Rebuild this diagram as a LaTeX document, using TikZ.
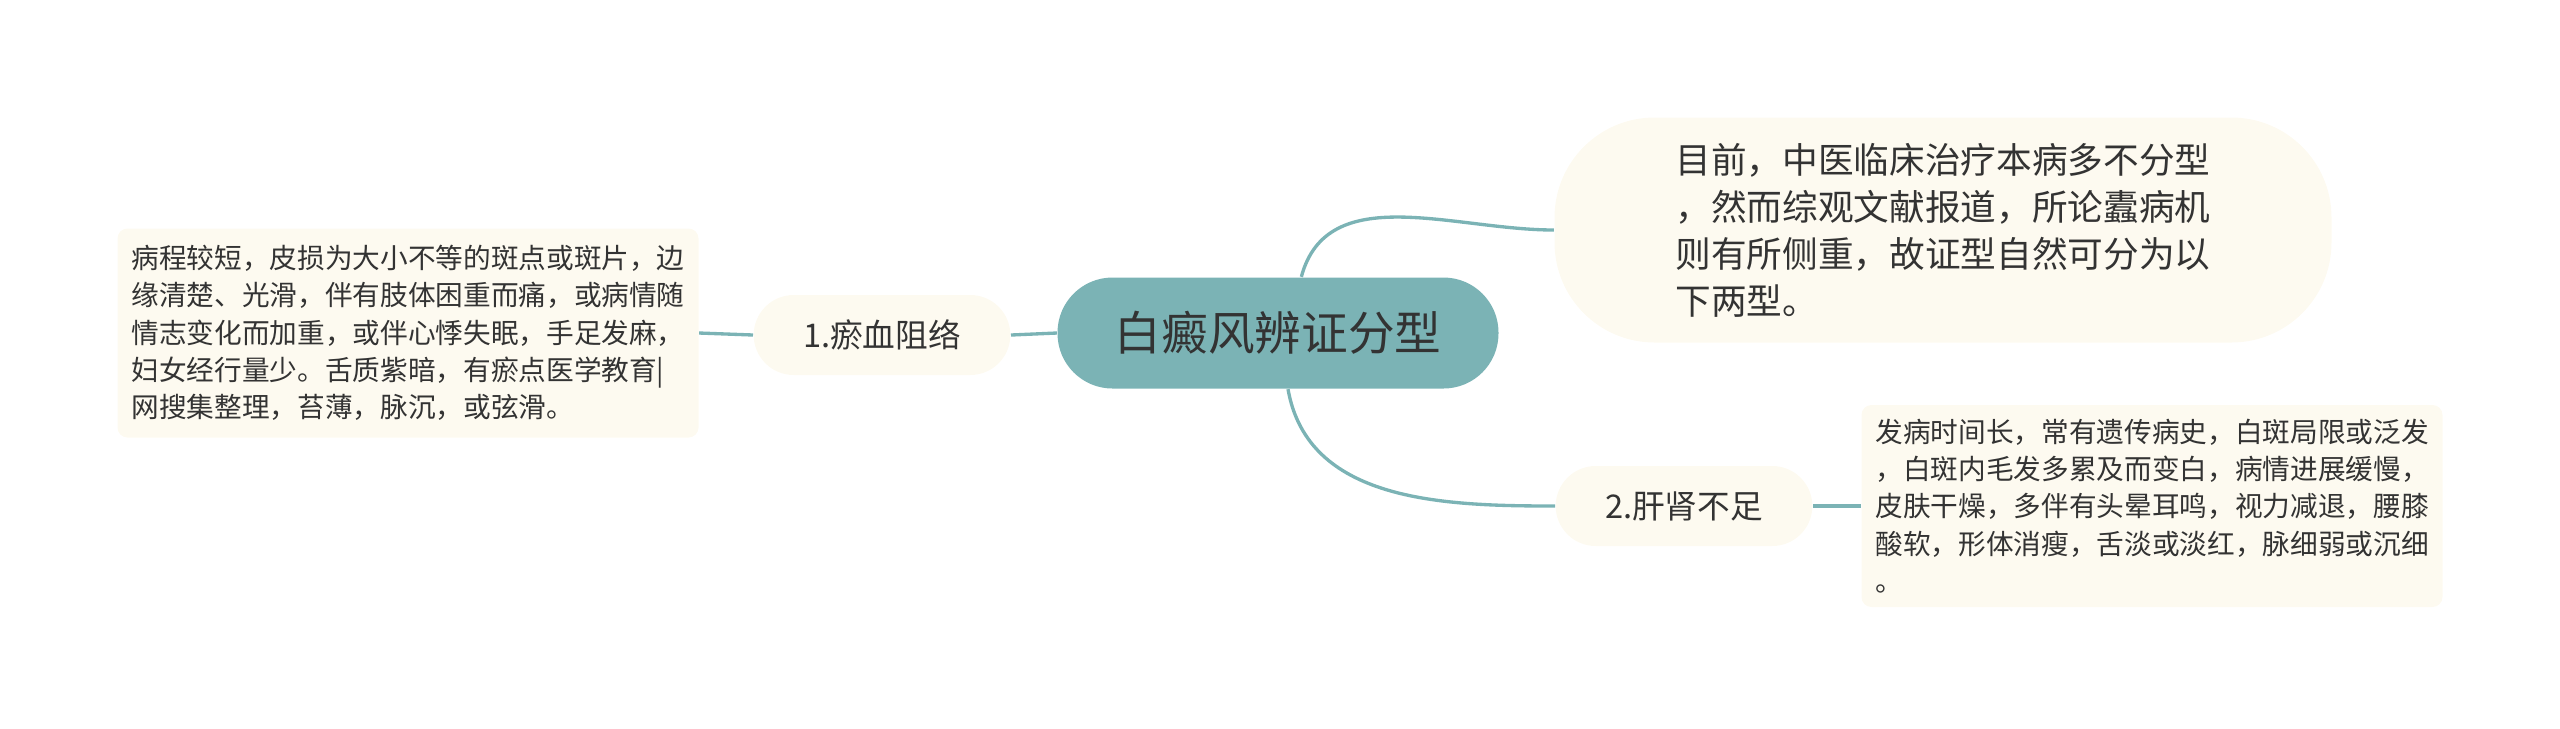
\documentclass[tikz,border=0pt]{standalone}
\usepackage{fontspec}
\setmainfont{Noto Sans CJK SC}
\usetikzlibrary{positioning}
\definecolor{rootfill}{HTML}{7BB3B5}
\definecolor{creamfill}{HTML}{FDFAF0}
\definecolor{linecol}{HTML}{7BB3B5}
\definecolor{textcol}{HTML}{333333}

\begin{document}
\begin{tikzpicture}[x=0.3pt,y=-0.3pt]
        \tikzset{rootnode/.style = {shape=rectangle,rounded corners=16.5pt,fill=rootfill,text=textcol,inner sep=0pt,
                 minimum width=132.3pt,minimum height=33.3pt,font=\fontsize{14}{16}\selectfont}}
        \tikzset{topic/.style = {shape=rectangle,rounded corners=12pt,fill=creamfill,text=textcol,inner sep=0pt,
                 minimum width=77pt,minimum height=24pt,font=\fontsize{9.8}{11}\selectfont}}
        \tikzset{leaf/.style = {shape=rectangle,rounded corners=3pt,fill=creamfill,text=textcol,inner sep=0pt,
                 align=left,minimum width=174.3pt,font=\fontsize{8.3}{11.2}\selectfont}}
        \tikzset{branch/.style = {draw=linecol,line width=1pt}}

        \useasboundingbox (0,0) rectangle (2560,728);

        % nodes
        \node[rootnode] (root) at (1278,333) {白癜风辨证分型};
        \node[topic] (stasis) at (882,335) {1.瘀血阻络};
        \node[topic] (kidney) at (1684,506) {2.肝肾不足};
        \node[leaf,minimum height=62.7pt] (stasisleaf) at (408,333)
            {病程较短，皮损为大小不等的斑点或斑片，边\\缘清楚、光滑，伴有肢体困重而痛，或病情随\\情志变化而加重，或伴心悸失眠，手足发麻，\\妇女经行量少。舌质紫暗，有瘀点医学教育|\\网搜集整理，苔薄，脉沉，或弦滑。};
        \node[leaf,minimum height=60.6pt] (kidneyleaf) at (2152,506)
            {发病时间长，常有遗传病史，白斑局限或泛发\\，白斑内毛发多累及而变白，病情进展缓慢，\\皮肤干燥，多伴有头晕耳鸣，视力减退，腰膝\\酸软，形体消瘦，舌淡或淡红，脉细弱或沉细\\。};
        \node[leaf,rounded corners=30pt,minimum width=233.1pt,minimum height=67.5pt,
              font=\fontsize{10.7}{14.1}\selectfont] (intro) at (1943,230)
            {目前，中医临床治疗本病多不分型\\，然而综观文献报道，所论蠹病机\\则有所侧重，故证型自然可分为以\\下两型。};

        % edges
        \draw[branch] (root.west) -- (stasis.east);
        \draw[branch] (stasis.west) -- (stasisleaf.east);
        \draw[branch] ([xshift=7pt]root.north) to[out=75,in=180] (intro.west);
        \draw[branch] ([xshift=3pt]root.south) to[out=-80,in=180] (kidney.west);
        \draw[branch] (kidney.east) -- (kidneyleaf.west);
\end{tikzpicture}
\end{document}
